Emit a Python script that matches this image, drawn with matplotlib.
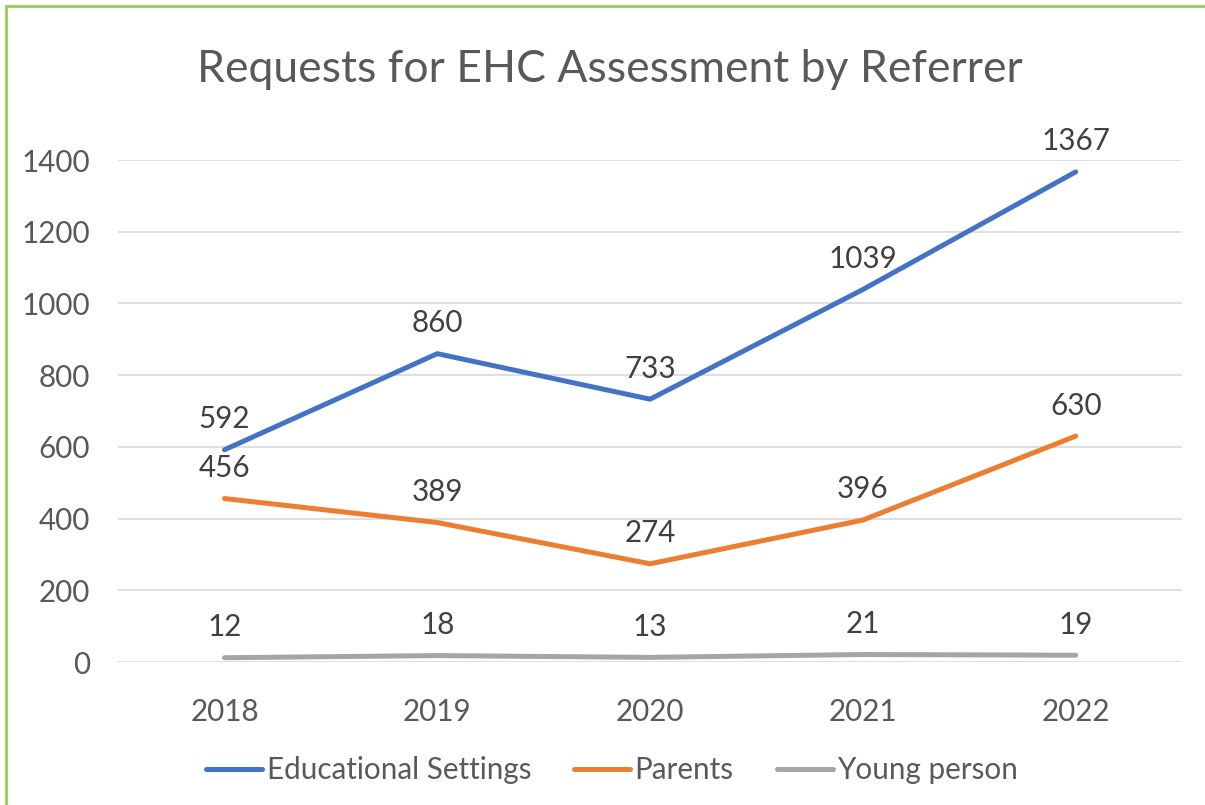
import matplotlib.pyplot as plt
from matplotlib.patches import Rectangle

# values
years = ["2018", "2019", "2020", "2021", "2022"]
educational = [592, 860, 733, 1039, 1367]
parents = [456, 389, 274, 396, 630]
young_person = [12, 18, 13, 21, 19]

series = [
    ("Educational Settings", educational, "#4472C4"),
    ("Parents", parents, "#ED7D31"),
    ("Young person", young_person, "#A5A5A5"),
]

plt.rcParams['font.family'] = ['Lato', 'DejaVu Sans']

fig = plt.figure(figsize=(12.05, 8.05), dpi=100)
ax = fig.add_axes([0.098, 0.1776, 0.883, 0.6236])

x = range(len(years))
for name, vals, color in series:
    ax.plot(x, vals, color=color, linewidth=3.6, solid_capstyle='round', label=name)
    for xi, v in zip(x, vals):
        ax.annotate(str(v), (xi, v), xytext=(0, 22), textcoords='offset points',
                    ha='center', va='center', fontsize=21.3, color='#404040')

ax.set_xlim(-0.5, len(years) - 0.5)
ax.set_ylim(0, 1400)
ax.set_yticks(range(0, 1401, 200))
ax.set_xticks(list(x))
ax.set_xticklabels(years)
ax.tick_params(axis='both', length=0, labelsize=21.3, labelcolor='#595959')
ax.tick_params(axis='x', pad=26)
ax.tick_params(axis='y', pad=20)
ax.grid(axis='y', color='#D9D9D9', linewidth=1.2)
ax.set_axisbelow(True)
for s in ax.spines.values():
    s.set_visible(False)

fig.text(0.506, 1 - 70 / 805, "Requests for EHC Assessment by Referrer",
         ha='center', va='center', fontsize=32, color='#595959')

fig.legend(loc='center', bbox_to_anchor=(612 / 1205, 1 - 770 / 805), ncol=3,
           frameon=False, fontsize=21.3, labelcolor='#595959',
           handlelength=1.9, handletextpad=0.15, columnspacing=1.45)

# green chart border
fig.patches.append(Rectangle((6 / 1205, -0.01), 1.02, 1 - 6 / 805 + 0.01,
                             transform=fig.transFigure, fill=False,
                             edgecolor='#92D050', linewidth=2))

fig.savefig("out.png", dpi=100)
